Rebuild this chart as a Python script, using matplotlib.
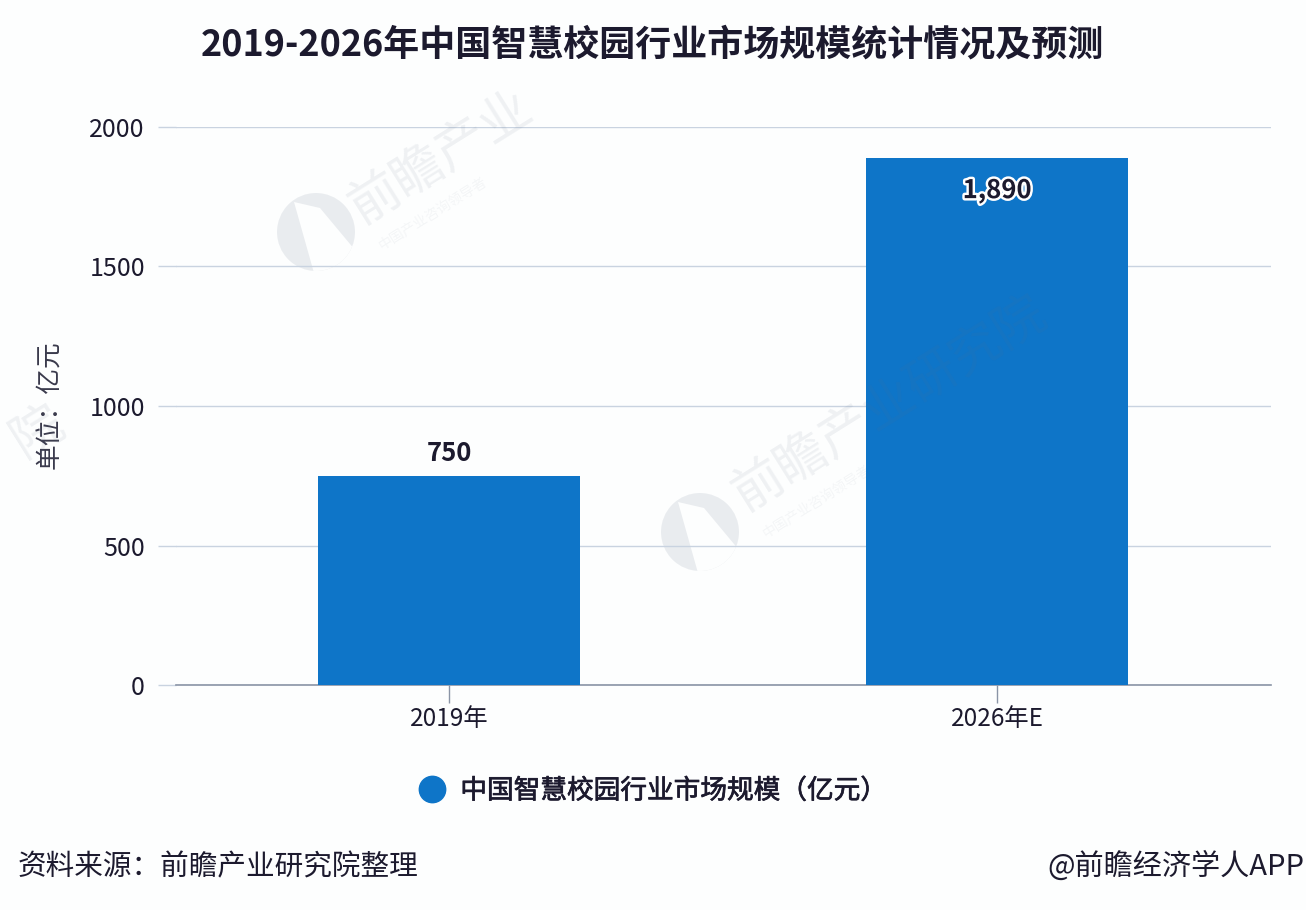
import matplotlib
matplotlib.use('Agg')
import matplotlib.pyplot as plt
from matplotlib.lines import Line2D
from matplotlib.patches import Circle, Polygon
import matplotlib.patheffects as pe

plt.rcParams['font.family'] = ['Noto Sans CJK SC', 'DejaVu Sans']

categories = ['2019年', '2026年E']
market_size = [750, 1890]
y_ticks = [0, 500, 1000, 1500, 2000]

W, H = 1306, 910
BLUE = '#0e75c8'
DARK = '#1c1a2e'
GRID = '#c9d3e0'
BG = '#fdfefe'
MARK = '#5f7088'

fig = plt.figure(figsize=(W / 100, H / 100), dpi=100, facecolor=BG)
ax = fig.add_axes([175.5 / W, 1 - 685 / H, 1095.5 / W, 558 / H])
ax.set_facecolor('none')

# faint watermarks, placed in pixel coordinates of the figure
def px(x, y):
    return x / W, 1 - y / H

def watermark(x, y, text, sub=None, rot=32):
    fx, fy = px(x, y)
    fig.text(fx, fy, text, fontsize=37, rotation=rot, color=MARK, alpha=0.09, fontweight='light',
             ha='left', va='bottom', rotation_mode='anchor', zorder=5)
    if sub:
        fx2, fy2 = px(x + 16, y + 18)
        fig.text(fx2, fy2, sub, fontsize=10, rotation=rot, color=MARK, alpha=0.06,
                 ha='left', va='bottom', rotation_mode='anchor', zorder=5)

def logo(x, y, r=39):
    # under the axes so the gridlines stay on top
    disc = Circle((x, H - y), r, transform=None, fc=MARK, ec='none', alpha=0.12, zorder=-1)
    fig.add_artist(disc)
    # white slash cut out of the disc
    slash = [(-22, -30), (4, -24), (39, 18), (34, 30), (8, 42), (-2, 41)]
    pts = [(x + dx, H - (y + dy)) for dx, dy in slash]
    cut = Polygon(pts, closed=True, transform=None, fc=BG, ec='none', zorder=-1)
    fig.add_artist(cut)
    cut.set_clip_path(disc)

watermark(367, 234, '前瞻产业', '中国产业咨询领导者')
logo(316, 232)
watermark(751, 522, '前瞻产业研究院', '中国产业咨询领导者')
logo(700, 532)
watermark(30, 468, '院')

bars = ax.bar(range(len(categories)), market_size, width=0.478, color=BLUE, zorder=3)

ax.set_xlim(-0.5, 1.5)
ax.set_ylim(0, 2000)
ax.set_xticks(range(len(categories)))
ax.set_xticklabels(categories, fontsize=17.5, color=DARK)
ax.set_yticks(y_ticks)
ax.set_yticklabels([str(v) for v in y_ticks], fontsize=18, color=DARK)
ax.tick_params(axis='y', length=13, width=1, color=GRID, pad=9)
ax.tick_params(axis='x', length=13, width=1, color='#8a94a6', pad=2)
ax.grid(axis='y', color=GRID, linewidth=1, zorder=0)
ax.set_axisbelow(True)
for side in ['top', 'right', 'left']:
    ax.spines[side].set_visible(False)
ax.spines['bottom'].set_color('#8a94a6')
ax.spines['bottom'].set_linewidth(1.2)

# value labels: 750 above its bar, 1,890 inside with a white halo
ax.annotate(f'{market_size[0]}', (0, market_size[0]), xytext=(0, 6), textcoords='offset points',
            ha='center', va='bottom', fontsize=18.5, fontweight='bold', color=DARK, zorder=6)
ax.annotate(f'{market_size[1]:,}', (1, market_size[1]), xytext=(0, -14), textcoords='offset points',
            ha='center', va='top', fontsize=18.5, fontweight='bold', color=DARK, zorder=6,
            path_effects=[pe.withStroke(linewidth=3.5, foreground='white')])

fx, fy = px(652, 45)
fig.text(fx, fy, '2019-2026年中国智慧校园行业市场规模统计情况及预测', fontsize=25.9, fontweight='bold',
         color=DARK, ha='center', va='center')

fx, fy = px(50, 405)
fig.text(fx, fy, '单位：亿元', fontsize=18.5, rotation=90, color='#3a3a4c', ha='center', va='center')

handle = Line2D([], [], linestyle='none', marker='o', markersize=19, color=BLUE)
leg = fig.legend([handle], ['中国智慧校园行业市场规模（亿元）'], loc='center', bbox_to_anchor=px(646, 791),
                 frameon=False, labelcolor=DARK, handletextpad=0.05, prop={'size': 19.2})
for t in leg.get_texts():
    t.set_path_effects([pe.withStroke(linewidth=0.5, foreground=DARK)])

fx, fy = px(18, 867)
fig.text(fx, fy, '资料来源：前瞻产业研究院整理', fontsize=20.6, color=DARK, ha='left', va='center')
fx, fy = px(1047, 867)
fig.text(fx, fy, '@前瞻经济学人APP', fontsize=21, color=DARK, ha='left', va='center')

fig.savefig('out.png', dpi=100, facecolor=fig.get_facecolor())
